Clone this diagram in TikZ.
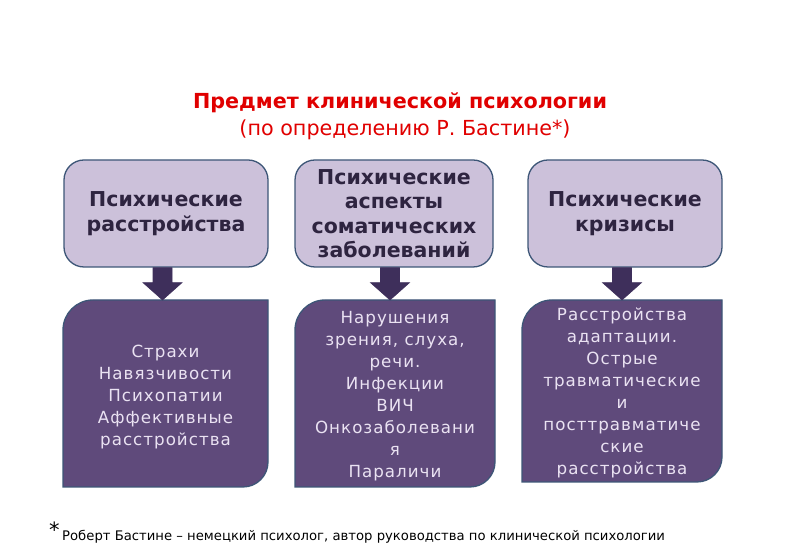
\documentclass[tikz,border=0pt]{standalone}
\usepackage{fontspec}
\setmainfont{DejaVu Sans}
\newfontfamily\spaced[LetterSpace=6]{DejaVu Sans}
\usetikzlibrary{calc}
\definecolor{topfill}{HTML}{CCC1DA}
\definecolor{boxedge}{HTML}{3D5677}
\definecolor{toptext}{HTML}{2E2440}
\definecolor{botfill}{HTML}{5F4A7B}
\definecolor{bottext}{HTML}{EAE2F2}
\definecolor{arrowfill}{HTML}{3E2F5B}
\definecolor{titlered}{HTML}{E00000}
\begin{document}
\begin{tikzpicture}[x=1pt,y=1pt,
  topbox/.style={draw=boxedge,line width=1.3pt,fill=topfill,rounded corners=20pt,
    text=toptext,align=center,font=\fontsize{20.5}{24.5}\selectfont\bfseries,inner sep=0pt},
  bottxt/.style={text=bottext,align=center,font=\fontsize{16.7}{22}\selectfont\spaced,inner sep=0pt},
  botshape/.style={draw=boxedge,line width=1.3pt,fill=botfill},
  blockarrow/.style={fill=arrowfill,draw=arrowfill,line width=0.6pt}
]
\useasboundingbox (0,0) rectangle (800,553);
% title
\node[text=titlered,font=\fontsize{20.7}{24}\selectfont\bfseries] (title1) at (400,450) {Предмет клинической психологии};
\node[text=titlered,font=\fontsize{20.7}{24}\selectfont] (title2) at (405,423) {(по определению Р. Бастине*)};
% top boxes
\node[topbox,minimum width=204pt,minimum height=107pt] (t1) at (166,339.5) {Психические\\расстройства};
\node[topbox,minimum width=198pt,minimum height=107pt] (t2) at (394,339.5) {Психические\\аспекты\\соматических\\заболеваний};
\node[topbox,minimum width=194pt,minimum height=107pt] (t3) at (625,339.5) {Психические\\кризисы};
% bottom box shapes (top-left and bottom-right rounded)
\newcommand{\botbox}[5]{% x1 x2 ytop ybot name
  \draw[botshape] (#1,#4) -- (#1,#3-30) arc[start angle=180,end angle=90,radius=30] -- (#2,#3)
    -- (#2,#4+25) arc[start angle=0,end angle=-90,radius=25] -- cycle;
  \coordinate (#5n) at ({(#1+#2)/2},#3);
  \coordinate (#5c) at ({(#1+#2)/2},{(#3+#4)/2});}
\botbox{63}{268}{253}{66}{b1}
\botbox{295}{495}{253}{66}{b2}
\botbox{522}{722}{253}{71}{b3}
\node[bottxt] (b1) at ($(b1c)+(0,-3.5)$) {Страхи\\Навязчивости\\Психопатии\\Аффективные\\расстройства};
\node[bottxt] (b2) at ($(b2c)+(0,-2.5)$) {Нарушения\\зрения, слуха,\\речи.\\Инфекции\\ВИЧ\\Онкозаболевани\\я\\Параличи};
\node[bottxt] (b3) at ($(b3c)+(0,-2)$) {Расстройства\\адаптации.\\Острые\\травматические\\и\\посттравматиче\\ские\\расстройства};
% block arrows
\newcommand{\blkarrow}[3]{% x, top node, bottom coordinate
  \fill[blockarrow] ($(#2.south -| #1,0)+(-9.5,0)$) -- ($(#2.south -| #1,0)+(9.5,0)$)
    -- ($(#2.south -| #1,0)+(9.5,-15)$) -- ($(#2.south -| #1,0)+(19.5,-15)$)
    -- (#3 -| #1,0) -- ($(#2.south -| #1,0)+(-19.5,-15)$) -- ($(#2.south -| #1,0)+(-9.5,-15)$) -- cycle;}
\blkarrow{162.5}{t1}{b1n}
\blkarrow{390}{t2}{b2n}
\blkarrow{622}{t3}{b3n}
% footnote
\node[anchor=base west,font=\fontsize{21}{21}\selectfont,inner sep=0pt] (star) at (49,15) {*};
\node[anchor=base west,font=\fontsize{13.2}{15}\selectfont,inner sep=0pt] (foot) at (62,12) {Роберт Бастине – немецкий психолог, автор руководства по клинической психологии};
\end{tikzpicture}
\end{document}
